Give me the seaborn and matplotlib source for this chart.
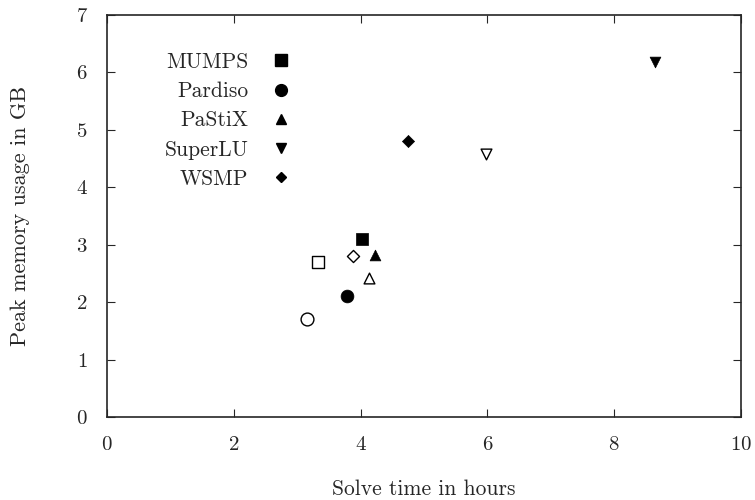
import matplotlib
matplotlib.use('Agg')
import matplotlib.pyplot as plt
from matplotlib.lines import Line2D
import pandas as pd
import seaborn as sns

# solver results: filled = first run, open = second run
solvers = ['MUMPS', 'Pardiso', 'PaStiX', 'SuperLU', 'WSMP']
time_filled = [4.02, 3.79, 4.23, 8.64, 4.75]
mem_filled = [3.10, 2.10, 2.82, 6.18, 4.80]
time_open = [3.33, 3.15, 4.13, 5.98, 3.88]
mem_open = [2.70, 1.70, 2.42, 4.58, 2.80]

MARKERS = {'MUMPS': 's', 'Pardiso': 'o', 'PaStiX': '^',
           'SuperLU': 'v', 'WSMP': 'D'}
SIZES = {'MUMPS': 85, 'Pardiso': 85, 'PaStiX': 60,
         'SuperLU': 60, 'WSMP': 38}
LEG_MS = {'MUMPS': 8, 'Pardiso': 8.5, 'PaStiX': 7, 'SuperLU': 7, 'WSMP': 5.5}

sns.set_style('ticks')
plt.rcParams['font.family'] = ['cmr10', 'DejaVu Serif']
plt.rcParams['axes.formatter.use_mathtext'] = True
plt.rcParams['mathtext.fontset'] = 'cm'

filled = pd.DataFrame({'solver': solvers, 'time': time_filled, 'mem': mem_filled})
hollow = pd.DataFrame({'solver': solvers, 'time': time_open, 'mem': mem_open})

fig, ax = plt.subplots(figsize=(7.55, 5), dpi=100)
fig.subplots_adjust(left=0.142, right=0.981, bottom=0.166, top=0.97)

for s in solvers:
    sns.scatterplot(data=filled[filled.solver == s], x='time', y='mem',
                    marker=MARKERS[s], s=SIZES[s], color='black',
                    edgecolor='black', linewidth=0.5, ax=ax, legend=False)
    sns.scatterplot(data=hollow[hollow.solver == s], x='time', y='mem',
                    marker=MARKERS[s], s=SIZES[s], facecolor='white',
                    edgecolor='black', linewidth=1.0, ax=ax, legend=False)

ax.set_xlim(0, 10)
ax.set_ylim(0, 7)
ax.set_xticks(range(0, 11, 2))
ax.set_yticks(range(0, 8))
ax.tick_params(direction='in', top=True, right=True, length=6,
               width=0.8, labelsize=15)
ax.tick_params(axis='x', pad=14)
ax.tick_params(axis='y', pad=14)
for sp in ax.spines.values():
    sp.set_linewidth(1.2)

ax.set_xlabel('Solve time in hours', fontsize=15.5, labelpad=18)
ax.set_ylabel('Peak memory usage in GB', fontsize=16, labelpad=33)

handles = [Line2D([], [], linestyle='none', marker=MARKERS[s], color='black',
                  markersize=LEG_MS[s]) for s in solvers]
ax.legend(handles, solvers, loc='upper left', bbox_to_anchor=(0.06, 0.955),
          frameon=False, markerfirst=False, fontsize=15.5,
          handlelength=1.2, handletextpad=0.9, labelspacing=0.45)

plt.savefig('out.png', dpi=100)
plt.close()
